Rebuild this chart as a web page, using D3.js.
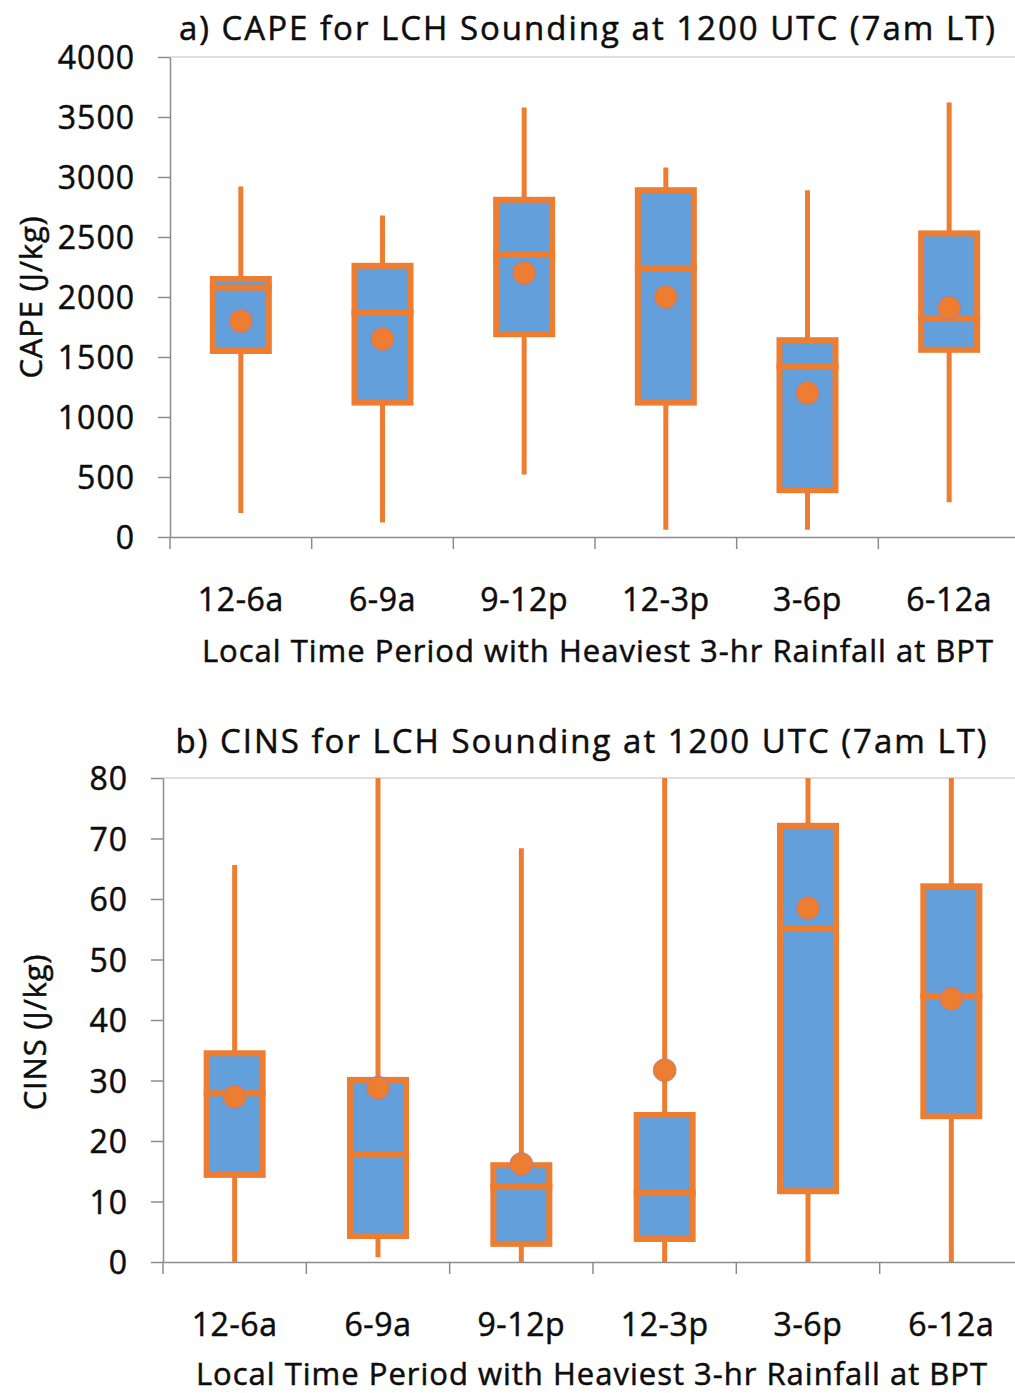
<!DOCTYPE html>
<html>
<head>
<meta charset="utf-8">
<script src="https://cdn.jsdelivr.net/npm/d3@7"></script>
<style>
  body { margin: 0; background: #fff; }
  svg text { font-family: "Open Sans", Lato, sans-serif; fill: #0d0d0d; stroke: #0d0d0d; stroke-width: 0.5px; }
</style>
</head>
<body>
<div id="chart"></div>
<script>
const periods = ["12-6a", "6-9a", "9-12p", "12-3p", "3-6p", "6-12a"];

// panel a) CAPE (J/kg)
const capeMin = [200, 120, 520, 60, 60, 290];
const capeQ1 = [1550, 1120, 1690, 1120, 390, 1560];
const capeMedian = [2080, 1870, 2350, 2240, 1420, 1820];
const capeQ3 = [2150, 2260, 2810, 2890, 1640, 2530];
const capeMax = [2920, 2680, 3580, 3080, 2890, 3620];
const capeMean = [1800, 1650, 2200, 2000, 1200, 1910];
const capeTicks = [0, 500, 1000, 1500, 2000, 2500, 3000, 3500, 4000];

// panel b) CINS (J/kg)
const cinsMin = [0, 0.8, 0, 0, 0, 0];
const cinsQ1 = [14.4, 4.3, 3.0, 3.8, 11.7, 24.1];
const cinsMedian = [27.9, 17.7, 12.4, 11.4, 55.2, 44.0];
const cinsQ3 = [34.5, 30.1, 16.0, 24.3, 72.1, 62.1];
const cinsMax = [65.6, 80, 68.4, 80, 80, 80];
const cinsMean = [27.3, 28.8, 16.2, 31.7, 58.5, 43.5];
const cinsTicks = [0, 10, 20, 30, 40, 50, 60, 70, 80];

const blue = "#639fdb";
const orange = "#ed7d31";

const svg = d3.select("#chart").append("svg")
  .attr("width", 1015)
  .attr("height", 1393);

function drawPanel(p) {
  const rows = periods.map((name, i) => ({
    name: name, lo: p.min[i], q1: p.q1[i], med: p.median[i],
    q3: p.q3[i], hi: p.max[i], mean: p.mean[i]
  }));

  const x = d3.scaleBand().domain(periods).range([p.left, p.right]);
  const y = d3.scaleLinear().domain([0, p.ticks[p.ticks.length - 1]]).range([p.bottom, p.top]);

  const g = svg.append("g");

  // top border line at the max value
  g.append("line")
    .attr("x1", p.left).attr("x2", p.right)
    .attr("y1", y(p.ticks[p.ticks.length - 1])).attr("y2", y(p.ticks[p.ticks.length - 1]))
    .attr("stroke", "#d4d4d4").attr("stroke-width", 1.5);

  // y axis
  const yAxis = g.append("g")
    .attr("transform", `translate(${p.left},0)`)
    .call(d3.axisLeft(y).tickValues(p.ticks).tickFormat(d3.format("d"))
      .tickSize(12).tickPadding(23).tickSizeOuter(0));
  yAxis.select(".domain").attr("stroke", "#8c8c8c").attr("stroke-width", 1.5);
  yAxis.selectAll(".tick line").attr("stroke", "#8c8c8c").attr("stroke-width", 1.5);
  yAxis.selectAll("text").style("font-size", "32px").style("letter-spacing", "1px").attr("dy", "0.36em");

  // x axis: labels at centres, ticks at category boundaries
  const xAxis = g.append("g")
    .attr("transform", `translate(0,${p.bottom})`)
    .call(d3.axisBottom(x).tickSize(0).tickPadding(p.labelPad).tickSizeOuter(0));
  xAxis.select(".domain").attr("stroke", "#8c8c8c").attr("stroke-width", 1.5);
  xAxis.selectAll("text").style("font-size", "32px").style("letter-spacing", "0.6px");

  g.append("g").selectAll("line")
    .data(periods)
    .join("line")
    .attr("x1", d => x(d)).attr("x2", d => x(d))
    .attr("y1", p.bottom).attr("y2", p.bottom + 12)
    .attr("stroke", "#8c8c8c").attr("stroke-width", 1.5);

  const bw = 56;
  const cx = d => x(d.name) + x.bandwidth() / 2;

  // whiskers
  g.append("g").selectAll("line")
    .data(rows)
    .join("line")
    .attr("x1", cx).attr("x2", cx)
    .attr("y1", d => y(d.lo)).attr("y2", d => y(d.hi))
    .attr("stroke", orange).attr("stroke-width", 5);

  // lower box (q1 -> median) and upper box (median -> q3)
  const boxes = g.append("g");
  boxes.selectAll("rect.lower")
    .data(rows)
    .join("rect")
    .attr("class", "lower")
    .attr("x", d => cx(d) - bw / 2).attr("width", bw)
    .attr("y", d => y(d.med)).attr("height", d => y(d.q1) - y(d.med))
    .attr("fill", blue).attr("stroke", orange).attr("stroke-width", 6);
  boxes.selectAll("rect.upper")
    .data(rows)
    .join("rect")
    .attr("class", "upper")
    .attr("x", d => cx(d) - bw / 2).attr("width", bw)
    .attr("y", d => y(d.q3)).attr("height", d => y(d.med) - y(d.q3))
    .attr("fill", blue).attr("stroke", orange).attr("stroke-width", 6);

  // means
  g.append("g").selectAll("circle")
    .data(rows)
    .join("circle")
    .attr("cx", cx).attr("cy", d => y(d.mean))
    .attr("r", 11.5)
    .attr("fill", orange)
    .attr("stroke", "#9a7bb8").attr("stroke-width", 1).attr("stroke-opacity", 0.6);

  // titles
  g.append("text")
    .attr("x", p.titleX).attr("y", p.titleY)
    .attr("text-anchor", "middle")
    .style("font-size", "33px")
    .style("letter-spacing", "2px")
    .text(p.title);

  g.append("text")
    .attr("x", p.xTitleX).attr("y", p.xTitleY)
    .attr("text-anchor", "middle")
    .style("font-size", "31px")
    .style("letter-spacing", "1px")
    .text("Local Time Period with Heaviest 3-hr Rainfall at BPT");

  g.append("text")
    .attr("transform", `translate(${p.yTitleX},${(p.top + p.bottom) / 2 + p.yTitleShift}) rotate(-90)`)
    .attr("text-anchor", "middle")
    .style("font-size", "31px")
    .style("letter-spacing", "0.8px")
    .text(p.yTitle);
}

drawPanel({
  min: capeMin, q1: capeQ1, median: capeMedian, q3: capeQ3, max: capeMax, mean: capeMean,
  ticks: capeTicks,
  left: 170, right: 1020, top: 57, bottom: 537,
  labelPad: 51,
  title: "a) CAPE for LCH Sounding at 1200 UTC (7am LT)", titleX: 588, titleY: 40,
  xTitleX: 598, xTitleY: 662,
  yTitle: "CAPE (J/kg)", yTitleX: 42, yTitleShift: 0
});

drawPanel({
  min: cinsMin, q1: cinsQ1, median: cinsMedian, q3: cinsQ3, max: cinsMax, mean: cinsMean,
  ticks: cinsTicks,
  left: 163, right: 1023, top: 778, bottom: 1262,
  labelPad: 51,
  title: "b) CINS for LCH Sounding at 1200 UTC (7am LT)", titleX: 582, titleY: 753,
  xTitleX: 592, xTitleY: 1385,
  yTitle: "CINS (J/kg)", yTitleX: 46, yTitleShift: 12
});
</script>
</body>
</html>
